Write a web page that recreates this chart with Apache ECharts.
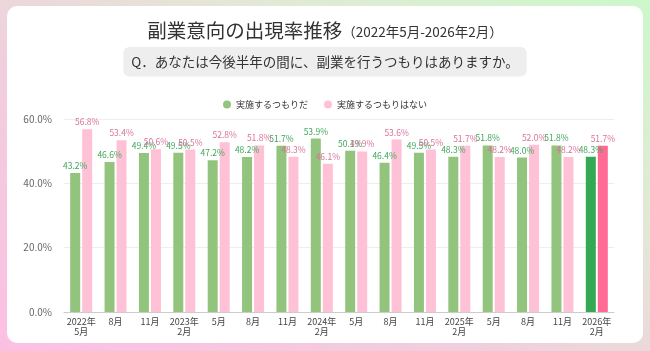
<!DOCTYPE html>
<html>
<head>
<meta charset="utf-8">
<script src="https://cdn.jsdelivr.net/npm/echarts@6/dist/echarts.min.js"></script>
<style>
html, body { margin: 0; padding: 0; }
body {
  width: 650px; height: 351px; position: relative; overflow: hidden;
  background: linear-gradient(30deg, #fcbfe3 0%, #f0cfdd 40%, #e3e8d6 68%, #ccf8cb 100%);
}
#card {
  position: absolute; left: 7px; top: 6px; width: 636px; height: 337px;
  background: #fff; border-radius: 10px;
}
#main { position: absolute; left: 0; top: 0; width: 650px; height: 351px; }
</style>
</head>
<body>
<div id="card"></div>
<div id="main"></div>
<script>
var categories = ['2022年\n5月', '8月', '11月', '2023年\n2月', '5月', '8月', '11月',
  '2024年\n2月', '5月', '8月', '11月', '2025年\n2月', '5月', '8月', '11月', '2026年\n2月'];
var willDo = [43.2, 46.6, 49.4, 49.5, 47.2, 48.2, 51.7, 53.9, 50.1, 46.4, 49.5, 48.3, 51.8, 48.0, 51.8, 48.3];
var wontDo = [56.8, 53.4, 50.6, 50.5, 52.8, 51.8, 48.3, 46.1, 49.9, 53.6, 50.5, 51.7, 48.2, 52.0, 48.2, 51.7];
var yTicks = [0, 20, 40, 60];

var FONT = '"Noto Sans CJK JP", "Noto Sans", sans-serif';

// 最新回だけ濃い色
function withLatest(arr, latestColor) {
  return arr.map(function (v, i) {
    if (i === arr.length - 1) {
      return { value: v, itemStyle: { color: latestColor } };
    }
    return v;
  });
}

var myChart = echarts.init(document.getElementById('main'));
myChart.setOption({
  backgroundColor: 'transparent',
  textStyle: { fontFamily: FONT },
  title: [{
    text: '{a|副業意向の出現率推移}{b|（2022年5月-2026年2月）}',
    left: 'center',
    top: 16,
    textStyle: {
      fontWeight: 'normal',
      rich: {
        a: { fontSize: 19.5, color: '#333', fontWeight: 'normal', fontFamily: FONT },
        b: { fontSize: 13.5, color: '#333', fontWeight: 'normal', fontFamily: FONT, padding: [3, 0, 0, 0] }
      }
    }
  }, {
    text: 'Q．あなたは今後半年の間に、副業を行うつもりはありますか。',
    left: 'center',
    top: 47,
    backgroundColor: '#eeeeee',
    borderRadius: 6,
    padding: [8, 8],
    textStyle: { fontSize: 13.5, color: '#333', fontWeight: 'normal', fontFamily: FONT }
  }],
  legend: {
    data: ['実施するつもりだ', '実施するつもりはない'],
    top: 95,
    left: 'center',
    icon: 'circle',
    itemWidth: 8,
    itemHeight: 8,
    itemGap: 16,
    textStyle: { fontSize: 9, color: '#333', fontFamily: FONT }
  },
  grid: {
    left: 64,
    right: 36,
    top: 119,
    bottom: 39
  },
  xAxis: {
    type: 'category',
    data: categories,
    axisTick: { show: false },
    axisLine: { lineStyle: { color: '#cccccc' } },
    axisLabel: {
      interval: 0,
      fontSize: 9,
      lineHeight: 10,
      color: '#444',
      margin: 5
    }
  },
  yAxis: {
    type: 'value',
    min: 0,
    max: 60,
    interval: 20,
    axisLabel: {
      fontSize: 10,
      color: '#666',
      margin: 12,
      formatter: function (v) { return v.toFixed(1) + '%'; }
    },
    splitLine: { lineStyle: { color: '#eeeeee' } }
  },
  series: [{
    name: '実施するつもりだ',
    type: 'bar',
    barWidth: 10,
    barGap: '20%',
    itemStyle: { color: '#93c47d' },
    label: {
      show: true,
      position: 'top',
      distance: 3,
      fontSize: 8.5,
      color: '#3fa75a',
      formatter: function (p) { return p.value.toFixed(1) + '%'; }
    },
    data: withLatest(willDo, '#34a853')
  }, {
    name: '実施するつもりはない',
    type: 'bar',
    barWidth: 10,
    itemStyle: { color: '#ffc1d5' },
    label: {
      show: true,
      position: 'top',
      distance: 3,
      fontSize: 8.5,
      color: '#d9729b',
      formatter: function (p) { return p.value.toFixed(1) + '%'; }
    },
    data: withLatest(wontDo, '#ff6b94')
  }]
});
</script>
</body>
</html>
